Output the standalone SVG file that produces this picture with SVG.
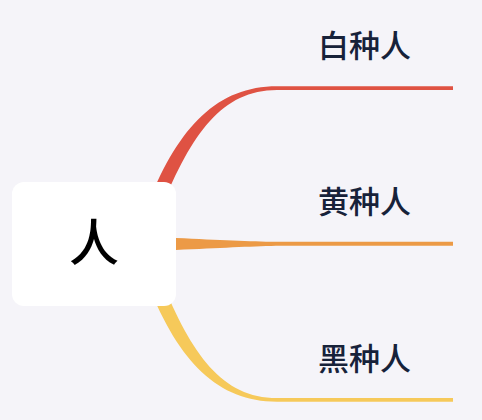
<svg xmlns="http://www.w3.org/2000/svg" width="482" height="420" viewBox="0 0 482 420">
<style>
.lbl{font-family:"Noto Sans CJK SC","Noto Sans",sans-serif;font-size:31px;font-weight:500;fill:#17223a}
.root{font-family:"Noto Sans CJK SC","Noto Sans",sans-serif;font-size:50px;font-weight:500;fill:#000}
</style>
<rect width="482" height="420" fill="#f5f4f9"/>
<g id="connectors">
<path d="M148.5,202.4 C179,126 218,86.2 277,86.2 L453,86.2 L453,90 L277,90 C222,90 191.5,134 161.5,207.6 Z" fill="#df5243"/>
<path d="M150,236 L176,238 C220,240 250,241.5 276,241.8 L453,241.8 L453,245.8 L276,245.8 C250,246.5 220,248 176,250 L150,252 Z" fill="#ec9a46"/>
<path d="M148.5,285.6 C179,362 218,401.8 277,401.8 L453,401.8 L453,398 L277,398 C222,398 191.5,354 161.5,280.4 Z" fill="#f6c95a"/>
</g>
<g id="node-root">
<rect x="12" y="182" width="164" height="124" rx="12" fill="#ffffff"/>
<text class="root" x="94" y="261" text-anchor="middle">人</text>
</g>
<g id="node-white">
<text class="lbl" x="318" y="57">白种人</text>
</g>
<g id="node-yellow">
<text class="lbl" x="318" y="213">黄种人</text>
</g>
<g id="node-black">
<text class="lbl" x="318" y="370">黑种人</text>
</g>
</svg>
